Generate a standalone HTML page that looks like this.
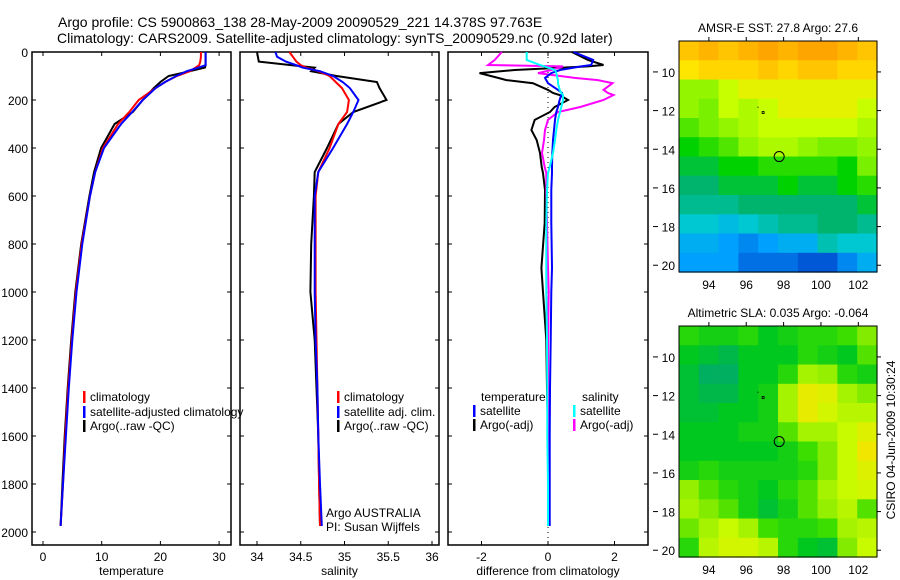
<!DOCTYPE html>
<html><head><meta charset="utf-8"><title>Argo profile</title>
<style>
html,body{margin:0;padding:0;background:#fff;}
svg{display:block;font-family:"Liberation Sans",sans-serif;}
text{fill:#000;}
</style></head>
<body>
<svg id="fig" width="900" height="580" viewBox="0 0 900 580" xmlns="http://www.w3.org/2000/svg">
<text x="58" y="27" font-size="14">Argo profile: CS 5900863_138 28-May-2009 20090529_221 14.378S 97.763E</text>
<text x="57" y="43" font-size="14">Climatology: CARS2009. Satellite-adjusted climatology: synTS_20090529.nc (0.92d later)</text>
<g id="layer"></g>
</svg>
<script>
// ---- profile data ----
const depths = [0,20,40,55,65,80,100,125,150,200,250,300,400,500,600,800,1000,1200,1400,1600,1800,1975];
const argoT = [27.7,27.7,27.7,27.7,27.6,25.0,21.4,20.0,18.9,17.0,15.3,12.2,9.9,8.7,7.9,6.5,5.5,4.8,4.2,3.7,3.3,3.0];
const climT = [26.9,26.9,26.8,26.6,26.0,25.0,22.8,20.8,19.2,16.3,14.7,12.8,10.2,8.9,8.0,6.6,5.6,4.9,4.3,3.8,3.4,3.0];
const satT = [27.7,27.7,27.7,27.7,26.5,24.5,22.7,20.8,19.2,17.0,15.2,13.3,10.4,8.9,8.0,6.7,5.7,5.0,4.4,3.9,3.4,3.0];
const argoS = [34.0,34.01,34.02,34.4,34.66,34.62,34.91,35.37,35.4,35.48,35.1,34.93,34.8,34.66,34.65,34.62,34.61,34.66,34.68,34.70,34.71,34.72];
const climS = [34.37,34.41,34.45,34.5,34.56,34.7,34.83,34.9,34.97,35.05,35.03,34.93,34.83,34.7,34.67,34.67,34.67,34.68,34.69,34.70,34.71,34.72];
const satS = [34.21,34.23,34.33,34.45,34.52,34.72,34.87,34.98,35.06,35.16,35.1,35.03,34.87,34.7,34.66,34.66,34.66,34.67,34.69,34.70,34.72,34.74];
const diffDepths = [0,33,54,60,75,88,108,117,130,158,171,179,200,229,250,283,325,367,421,479,504,575,712,900,1000,1200,1400,1600,1800,1975];
const diffTArgo = [0.72,1.2,1.67,1.2,-1.0,-2.06,-1.5,-1.25,-0.45,0.0,0.15,0.35,0.6,0.2,0.06,-0.4,-0.5,-0.34,-0.24,-0.19,-0.15,-0.09,-0.1,-0.2,-0.15,-0.05,-0.03,0.0,0.0,0.0];
const diffSArgo = [-1.39,-1.6,-1.8,0.45,0.1,-0.3,0.8,1.5,1.94,1.67,1.8,1.97,1.67,0.97,0.3,0.0,-0.09,-0.12,-0.18,-0.1,-0.05,-0.05,-0.03,0.0,0.02,0.0,0.0,0.0,0.0,0.0];
const diffTSat = [0.77,1.36,1.3,1.0,0.36,0.1,-0.09,-0.05,0.0,0.3,0.42,0.4,0.35,0.3,0.25,0.21,0.18,0.15,0.13,0.12,0.12,0.1,0.1,0.12,0.1,0.08,0.06,0.05,0.05,0.05];
const diffSSat = [-0.64,-0.64,-0.24,-0.1,0.21,0.25,0.28,0.3,0.3,0.35,0.4,0.45,0.45,0.4,0.36,0.3,0.25,0.21,0.15,0.05,0.0,-0.03,-0.05,-0.05,-0.05,-0.03,-0.02,-0.02,0.0,0.0];
const depthTicks = [0,200,400,600,800,1000,1200,1400,1600,1800,2000];
const tempTicks = [0,10,20,30];
const salTicks = [34,34.5,35,35.5,36];
const salTickLabels = ["34","34.5","35","35.5","36"];
const diffTicks = [-2,0,2];
// ---- map data ----
const lonTicks = [94,96,98,100,102];
const latTicks = [10,12,14,16,18,20];
const sstGrid = [
[27.6,27.7,27.6,27.7,27.8,27.7,27.8,27.8,27.7,27.6],
[27.4,27.5,27.5,27.5,27.6,27.5,27.6,27.6,27.5,27.5],
[27.0,27.0,27.2,27.3,27.3,27.3,27.3,27.3,27.3,27.3],
[27.0,26.9,27.2,27.1,27.2,27.3,27.3,27.3,27.3,27.2],
[26.8,26.9,27.0,27.1,27.2,27.2,27.2,27.2,27.2,27.1],
[26.6,26.7,26.8,27.0,27.1,27.1,27.0,26.9,26.9,27.0],
[26.5,26.5,26.6,26.6,26.7,26.7,26.7,26.7,26.6,26.9],
[26.4,26.4,26.5,26.5,26.5,26.6,26.5,26.5,26.6,26.7],
[26.3,26.3,26.3,26.4,26.4,26.4,26.4,26.4,26.4,26.5],
[26.1,26.1,26.0,26.1,26.2,26.3,26.3,26.4,26.4,26.3],
[25.9,25.9,25.8,25.7,25.8,25.9,25.9,26.2,26.1,26.1],
[25.8,25.8,25.8,25.6,25.6,25.6,25.5,25.5,25.7,25.9]];
const slaGrid = [
[-.04,-.05,-.05,-.04,-.06,-.05,-.04,-.04,-.03,.00],
[-.06,-.07,-.08,-.06,-.06,-.06,-.04,-.05,-.06,-.02],
[-.07,-.09,-.09,-.06,-.06,-.04,.02,.01,-.04,-.05],
[-.07,-.08,-.08,-.06,-.05,.02,.07,.06,.02,.00],
[-.07,-.07,-.06,-.06,-.05,.02,.07,.05,.03,.03],
[-.06,-.06,-.06,-.05,-.05,-.02,.02,.02,.04,.06],
[-.06,-.06,-.06,-.06,-.06,-.05,-.03,.00,.04,.08],
[-.05,-.04,-.05,-.05,-.05,-.05,-.04,.00,.04,.06],
[.01,-.02,-.04,-.05,-.06,-.04,-.02,.02,.04,.05],
[.02,.00,-.02,-.05,-.07,-.05,-.02,.01,.03,-.02],
[-.01,.02,.04,.02,-.03,-.04,-.04,-.03,.02,.03],
[-.04,.03,.05,.05,.03,-.04,-.06,-.07,.00,.04]];
const floatLon = 97.763, floatLat = 14.378;

const NS="http://www.w3.org/2000/svg";
const layer=document.getElementById('layer');
function mk(tag,attrs,parent){const e=document.createElementNS(NS,tag);for(const k in attrs)e.setAttribute(k,attrs[k]);(parent||layer).appendChild(e);return e;}
function txt(x,y,s,size,anchor,parent){const t=mk('text',{x:x,y:y,'font-size':size,'text-anchor':anchor||'start'},parent);t.textContent=s;return t;}

const PY0=52, PY1=545;
const yD = d => PY0 + d*0.24;

function panel(name,x0,x1,xScale,ticks,labels,xlabel,showY){
  const g=mk('g',{});
  
  
  const r=mk('rect',{x:x0,y:PY0,width:x1-x0,height:PY1-PY0,fill:'none',stroke:'#000','stroke-width':1.5},g);
  
  
  ticks.forEach((v,i)=>{const x=xScale(v);
    mk('line',{x1:x,y1:PY1,x2:x,y2:PY1-4,stroke:'#000'},g);
    mk('line',{x1:x,y1:PY0,x2:x,y2:PY0+4,stroke:'#000'},g);
    const t=txt(x,PY1+16,labels[i],12,'middle',g);
    
    
  });
  depthTicks.forEach(d=>{const y=yD(d);
    mk('line',{x1:x0,y1:y,x2:x0+4,y2:y,stroke:'#000'},g);
    mk('line',{x1:x1,y1:y,x2:x1-4,y2:y,stroke:'#000'},g);
    if(showY){const t=txt(28,y+5,String(d),12,'end',g);
      
      }
  });
  const xl=txt((x0+x1)/2,PY1+30,xlabel,12,'middle',g);
  
  
  return g;
}
function line(g,xs,ds,xScale,color,name){
  const pts=xs.map((v,i)=>xScale(v).toFixed(1)+','+yD(ds[i]).toFixed(1)).join(' ');
  const p=mk('polyline',{points:pts,fill:'none',stroke:color,'stroke-width':2,'stroke-linejoin':'miter'},g);
  
  
}
function legend(g,x,y,color,label,name){
  const b=mk('rect',{x:x,y:y-6,width:2.5,height:12,fill:color},g);
  
  
  const t=txt(x+7,y+4,label,12,'start',g);
  
  
}

// Temperature panel
const xT=v=>43+v*5.87;
const gT=panel('temperature',32,231,xT,tempTicks,tempTicks.map(String),'temperature',true);
line(gT,argoT,depths,xT,'#000','argo-temperature-line');
line(gT,climT,depths,xT,'#f00','climatology-temperature-line');
line(gT,satT,depths,xT,'#00f','satellite-temperature-line');
legend(gT,83,397,'#f00','climatology','legend-climatology');
legend(gT,83,412,'#00f','satellite-adjusted climatology','legend-satellite-adjusted');
legend(gT,83,426,'#000','Argo(..raw -QC)','legend-argo');

// Salinity panel
const xS=v=>257+(v-34)*87.5;
const gS=panel('salinity',240,439,xS,salTicks,salTickLabels,'salinity',false);
line(gS,argoS,depths,xS,'#000','argo-salinity-line');
line(gS,climS,depths,xS,'#f00','climatology-salinity-line');
line(gS,satS,depths,xS,'#00f','satellite-salinity-line');
legend(gS,337,397,'#f00','climatology','legend-sal-climatology');
legend(gS,337,412,'#00f','satellite adj. clim.','legend-sal-satellite');
legend(gS,337,426,'#000','Argo(..raw -QC)','legend-sal-argo');
const a1=txt(326,517,'Argo AUSTRALIA',12,'start',gS);


const a2=txt(326,531,'PI: Susan Wijffels',12,'start',gS);



// Difference panel
const xDf=v=>548+v*33.25;
const gD=panel('difference',448,648,xDf,diffTicks,diffTicks.map(String),'difference from climatology',false);
const zl=mk('line',{x1:xDf(0),y1:PY0,x2:xDf(0),y2:PY1,stroke:'#000','stroke-dasharray':'1,4'},gD);


line(gD,diffTArgo,diffDepths,xDf,'#000','argo-temperature-difference-line');
line(gD,diffSArgo,diffDepths,xDf,'#f0f','argo-salinity-difference-line');
line(gD,diffTSat,diffDepths,xDf,'#00f','satellite-temperature-difference-line');
line(gD,diffSSat,diffDepths,xDf,'#0ff','satellite-salinity-difference-line');
const lt=txt(481,401,'temperature',12,'start',gD);


const ls=txt(582,401,'salinity',12,'start',gD);


legend(gD,473,411,'#00f','satellite','legend-temp-satellite');
legend(gD,473,425,'#000','Argo(-adj)','legend-temp-argo');
legend(gD,573,411,'#0ff','satellite','legend-sal-satellite-diff');
legend(gD,573,425,'#f0f','Argo(-adj)','legend-sal-argo-diff');

// Colormaps
function interp(stops,v){
  if(v<=stops[0][0])return stops[0][1];
  for(let i=1;i<stops.length;i++){if(v<=stops[i][0]){const a=stops[i-1],b=stops[i],t=(v-a[0])/(b[0]-a[0]);
    return a[1].map((c,k)=>Math.round(c+(b[1][k]-c)*t));}}
  return stops[stops.length-1][1];
}
const sstStops=[[25.4,[0,64,200]],[25.8,[0,160,255]],[26.1,[0,200,210]],[26.4,[0,180,110]],[26.6,[0,210,0]],[26.9,[120,240,0]],[27.2,[200,255,0]],[27.4,[255,230,0]],[27.8,[255,165,0]]];
const slaStops=[[-0.09,[0,175,95]],[-0.06,[0,200,30]],[-0.03,[60,222,0]],[0.0,[130,235,0]],[0.04,[200,250,0]],[0.08,[240,230,0]]];

function map(name,top,bottom,grid,stops,title){
  const L=679,R=877,lon0=92.4,lon1=103.0,lat0=8.4,lat1=20.35;
  const xL=lon=>L+(lon-lon0)/(lon1-lon0)*(R-L);
  const yL=lat=>top+(lat-lat0)/(lat1-lat0)*(bottom-top);
  const g=mk('g',{});
  
  
  const nr=grid.length,nc=grid[0].length;
  const dLon=(lon1-lon0)/nc,dLat=(lat1-lat0)/nr;
  grid.forEach((row,i)=>row.forEach((v,j)=>{
    const x=xL(lon0+j*dLon),y=yL(lat0+i*dLat);
    const c=interp(stops,v);
    const cell=mk('rect',{x:x.toFixed(1),y:y.toFixed(1),width:(xL(lon0+(j+1)*dLon)-x+0.6).toFixed(1),height:(yL(lat0+(i+1)*dLat)-y+0.6).toFixed(1),fill:'rgb('+c.join(',')+')'},g);
    
    
  }));
  const fr=mk('rect',{x:L,y:top,width:R-L,height:bottom-top,fill:'none',stroke:'#000','stroke-width':1},g);
  
  
  lonTicks.forEach(lon=>{const x=xL(lon);
    mk('line',{x1:x,y1:top,x2:x,y2:top-4,stroke:'#000'},g);
    const t=txt(x,bottom+17,String(lon),12,'middle',g);
    
    
  });
  latTicks.forEach(lat=>{const y=yL(lat);
    mk('line',{x1:R,y1:y,x2:R+4,y2:y,stroke:'#000'},g);
    mk('line',{x1:653,y1:y,x2:658,y2:y,stroke:'#000'},g);
    const t=txt(675,y+5,String(lat),12,'end',g);
    
    
  });
  const c=mk('circle',{cx:xL(floatLon),cy:yL(floatLat),r:5,fill:'none',stroke:'#000','stroke-width':1},g);
  
  
  mk('rect',{x:xL(96.85),y:yL(12.05),width:2,height:2,fill:'none',stroke:'#000','stroke-width':0.8},g);
  mk('rect',{x:xL(96.6),y:yL(11.8),width:1,height:1,fill:'#000'},g);
  const tt=txt((L+R)/2,top-9,title,12,'middle',g);
  
  
}
map('sst',41,272,sstGrid,sstStops,'AMSR-E SST: 27.8 Argo: 27.6');
map('sla',326,557,slaGrid,slaStops,'Altimetric SLA: 0.035 Argo: -0.064');
const cs=txt(0,0,'CSIRO 04-Jun-2009 10:30:24',12,'middle');
cs.setAttribute('transform','translate(895,440) rotate(-90)');


</script>
</body></html>
